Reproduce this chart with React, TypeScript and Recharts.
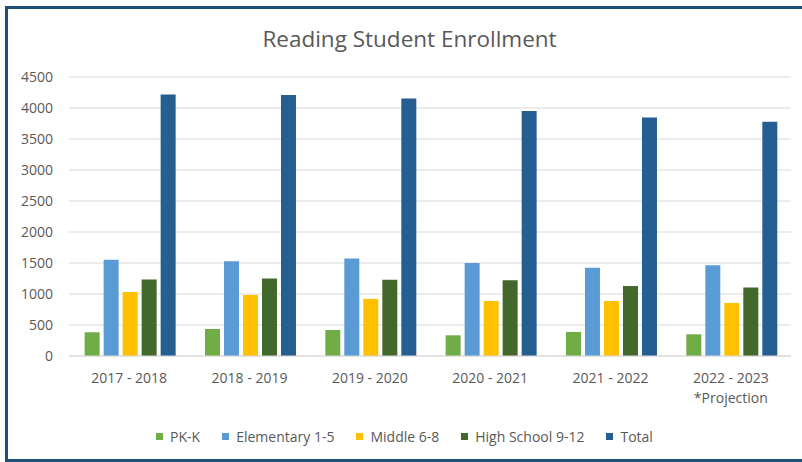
import React from "react";
import { BarChart, Bar, XAxis, YAxis, CartesianGrid, Legend } from "recharts";

const categories = ["2017 - 2018", "2018 - 2019", "2019 - 2020", "2020 - 2021", "2021 - 2022", "2022 - 2023"];
const projectionCategory = "2022 - 2023";
const projectionNote = "*Projection";

const pkK = [383, 436, 420, 334, 388, 350];
const elementary = [1551, 1530, 1572, 1502, 1422, 1465];
const middle = [1034, 985, 921, 888, 888, 856];
const highSchool = [1233, 1249, 1228, 1222, 1131, 1104];
const total = [4216, 4211, 4152, 3953, 3845, 3780];

const yTicks = [0, 500, 1000, 1500, 2000, 2500, 3000, 3500, 4000, 4500];

const seriesDefs = [
  { key: "pkK", name: "PK-K", color: "#70AD47", values: pkK },
  { key: "elementary", name: "Elementary 1-5", color: "#5B9BD5", values: elementary },
  { key: "middle", name: "Middle 6-8", color: "#FFC000", values: middle },
  { key: "highSchool", name: "High School 9-12", color: "#43682B", values: highSchool },
  { key: "total", name: "Total", color: "#255E91", values: total },
];

const data = categories.map((c, i) => {
  const row: Record<string, any> = { category: c };
  seriesDefs.forEach((s) => {
    row[s.key] = s.values[i];
  });
  return row;
});

const FONT = "'Open Sans', sans-serif";
const TEXT = "#595959";

const XTick = (props: any) => {
  const { x, y, payload } = props;
  return (
    <text x={x} y={y} textAnchor="middle" fill={TEXT} fontSize={14} fontFamily={FONT}>
      <tspan x={x} dy="0.71em">{payload.value}</tspan>
      {payload.value === projectionCategory && (
        <tspan x={x} dy={20}>{projectionNote}</tspan>
      )}
    </text>
  );
};

const LegendContent = () => (
  <div
    style={{
      display: "flex",
      justifyContent: "center",
      alignItems: "center",
      fontFamily: FONT,
      fontSize: 14,
      color: TEXT,
      height: 20,
      paddingLeft: 18,
    }}
  >
    {seriesDefs.map((s, i) => (
      <div key={s.key} style={{ display: "flex", alignItems: "center", marginLeft: i === 0 ? 0 : 22 }}>
        <span style={{ width: 7, height: 7, background: s.color, display: "inline-block", marginRight: 7 }} />
        <span>{s.name}</span>
      </div>
    ))}
  </div>
);

export default function App() {
  return (
    <div style={{ position: "absolute", left: 0, top: 0, width: 802, height: 462, background: "#fff", overflow: "hidden" }}>
      <div
        style={{
          position: "absolute",
          left: 5,
          top: 6,
          width: 830,
          height: 456,
          borderTop: "3px solid #1F4E79",
          borderLeft: "3px solid #1F4E79",
          borderBottom: "3px solid #1F4E79",
          boxSizing: "border-box",
        }}
      />
      <div
        style={{
          position: "absolute",
          left: 0,
          top: 27.5,
          width: 819,
          textAlign: "center",
          fontFamily: FONT,
          fontSize: 22.5,
          lineHeight: "21px",
          color: TEXT,
        }}
      >
        Reading Student Enrollment
      </div>
      <div style={{ position: "absolute", left: 0, top: 0 }}>
        <BarChart
          width={802}
          height={462}
          data={data}
          margin={{ top: 77, right: 11, left: 0, bottom: 16 }}
          barCategoryGap="13%"
          barGap={4}
        >
          <CartesianGrid vertical={false} stroke="#D9D9D9" strokeWidth={1} />
          <XAxis
            dataKey="category"
            height={70}
            axisLine={{ stroke: "#D9D9D9" }}
            tickLine={false}
            tickMargin={11}
            tick={<XTick />}
            interval={0}
          />
          <YAxis
            width={69}
            domain={[0, 4500]}
            ticks={yTicks}
            axisLine={false}
            tickLine={false}
            tickMargin={10}
            tick={{ fill: TEXT, fontSize: 14, fontFamily: FONT }}
            interval={0}
          />
          <Legend verticalAlign="bottom" height={20} content={<LegendContent />} />
          {seriesDefs.map((s) => (
            <Bar key={s.key} dataKey={s.key} name={s.name} fill={s.color} isAnimationActive={false} />
          ))}
        </BarChart>
      </div>
    </div>
  );
}
